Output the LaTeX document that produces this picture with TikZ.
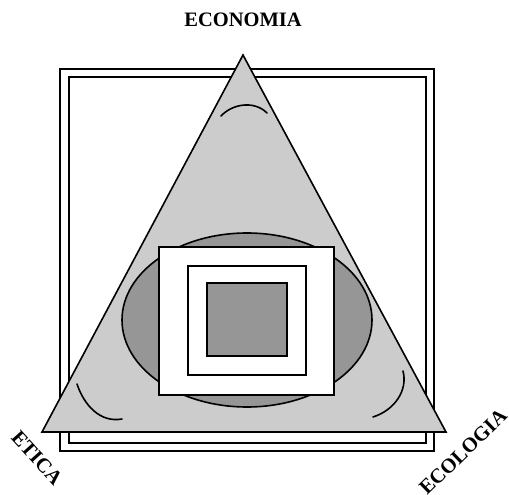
\documentclass[tikz,border=0pt]{standalone}
\usepackage{fontspec}
\setmainfont{Liberation Serif}
\definecolor{lightgrey}{RGB}{204,204,204}
\definecolor{midgrey}{RGB}{150,150,150}
\tikzset{
  frame/.style={draw=black, line width=1.6pt},
  cornertext/.style={font=\fontsize{20.5}{24}\selectfont\bfseries, inner sep=0pt},
  cornerarc/.style={draw=black, line width=1.6pt, line cap=round}
}
\begin{document}
\begin{tikzpicture}[x=1pt, y=-1pt]
    \useasboundingbox (0,0) rectangle (509,495);

    % double frame
    \draw[frame] (60,69) rectangle (434,451);
    \draw[frame] (69,77) rectangle (426,443);

    % triangle
    \coordinate (top) at (243,55);
    \coordinate (left) at (42,432);
    \coordinate (right) at (446,432);
    \draw[frame, fill=lightgrey, line join=miter] (top) -- (left) -- (right) -- cycle;

    % ellipse and squares
    \draw[frame, fill=midgrey] (247,320) ellipse (125 and 87);
    \draw[frame, fill=white] (159,247) rectangle (334,395);
    \draw[frame, fill=white] (188,266) rectangle (306,375);
    \draw[frame, fill=midgrey] (207,283) rectangle (287,356);

    % arcs near the corners
    \draw[cornerarc] (221,116) .. controls (232,104) and (254,100) .. (267,113);
    \draw[cornerarc] (77,384) .. controls (84,405) and (100,423) .. (122,419);
    \draw[cornerarc] (403,371) .. controls (408,390) and (395,410) .. (373,417);

    \node[cornertext] (economia) at (243,20) {ECONOMIA};
    \node[cornertext, rotate=-48] (etica) at (37,458) {ETICA};
    \node[cornertext, rotate=44] (ecologia) at (463,452) {ECOLOGIA};
\end{tikzpicture}
\end{document}
